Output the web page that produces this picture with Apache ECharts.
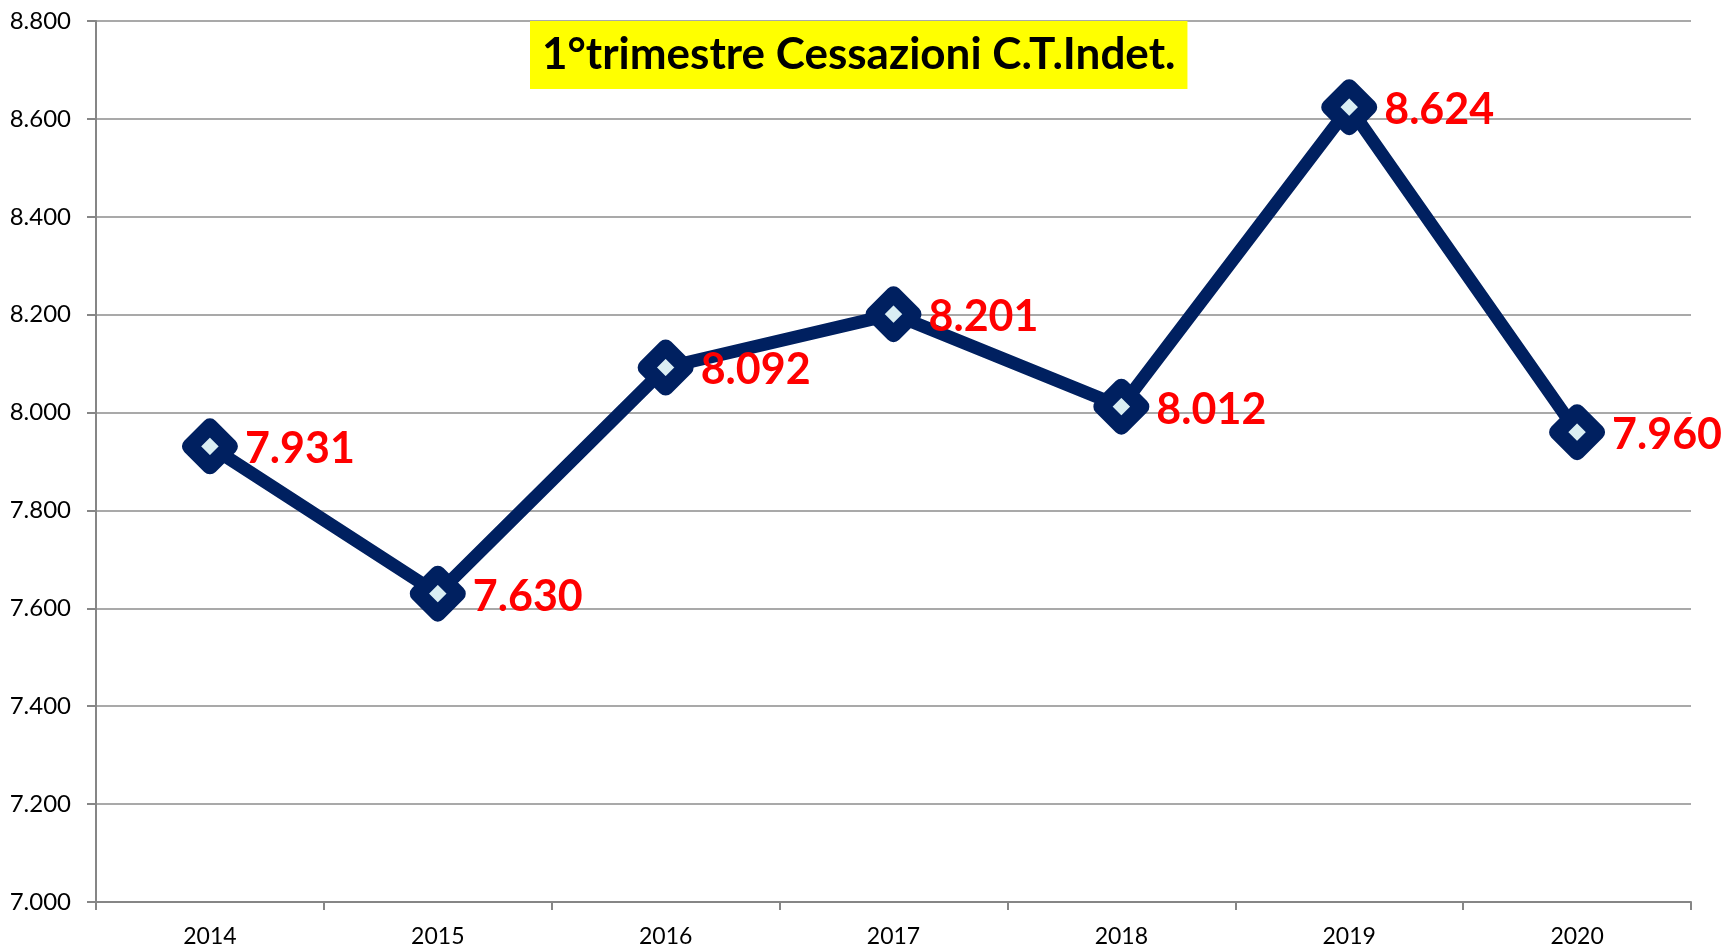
<!DOCTYPE html>
<html>
<head>
<meta charset="utf-8">
<script src="https://cdn.jsdelivr.net/npm/echarts@6/dist/echarts.min.js"></script>
<style>
  html, body { margin: 0; padding: 0; background: #fff; }
  #chart { width: 1727px; height: 948px; }
</style>
</head>
<body>
<div id="chart"></div>
<script>
const years = ['2014', '2015', '2016', '2017', '2018', '2019', '2020']
const cessazioni = [7931, 7630, 8092, 8201, 8012, 8624, 7960]
const titleText = '1°trimestre Cessazioni C.T.Indet.'

// separatore migliaia all'italiana
function fmt(v) {
  const s = String(Math.round(v))
  return s.replace(/\B(?=(\d{3})+(?!\d))/g, '.')
}

const chart = echarts.init(document.getElementById('chart'))
chart.setOption({
  animation: false,
  title: {
    text: titleText,
    left: 530,
    top: 21,
    backgroundColor: '#ffff00',
    padding: [12, 12, 12, 12],
    textStyle: { fontFamily: 'Lato', fontWeight: 'bold', fontSize: 44, color: '#000' }
  },
  grid: { left: 96, right: 36, top: 21, bottom: 46 },
  xAxis: {
    type: 'category',
    data: years,
    boundaryGap: true,
    axisLine: { lineStyle: { color: '#868686', width: 2 } },
    axisTick: { show: true, length: 8, lineStyle: { color: '#868686', width: 2 } },
    axisLabel: { color: '#000', fontFamily: 'Lato', fontSize: 23, margin: 23 }
  },
  yAxis: {
    type: 'value',
    min: 7000,
    max: 8800,
    interval: 200,
    axisLine: { show: true, lineStyle: { color: '#868686', width: 2 } },
    axisTick: { show: true, length: 9, lineStyle: { color: '#868686', width: 2 } },
    splitLine: { lineStyle: { color: '#8c8c8c', width: 1.5 } },
    axisLabel: { color: '#000', fontFamily: 'Lato', fontSize: 24, margin: 25, formatter: fmt }
  },
  series: [{
    type: 'line',
    data: cessazioni,
    symbol: 'diamond',
    symbolSize: 40,
    lineStyle: { color: '#002060', width: 13 },
    itemStyle: { color: '#daeef3', borderColor: '#002060', borderWidth: 16, borderJoin: 'round' },
    label: {
      show: true,
      position: 'right',
      distance: 7,
      color: '#ff0000',
      fontFamily: 'Lato',
      fontWeight: 'bold',
      fontSize: 43,
      offset: [0, 3],
      formatter: p => fmt(p.value)
    }
  }]
})
</script>
</body>
</html>
